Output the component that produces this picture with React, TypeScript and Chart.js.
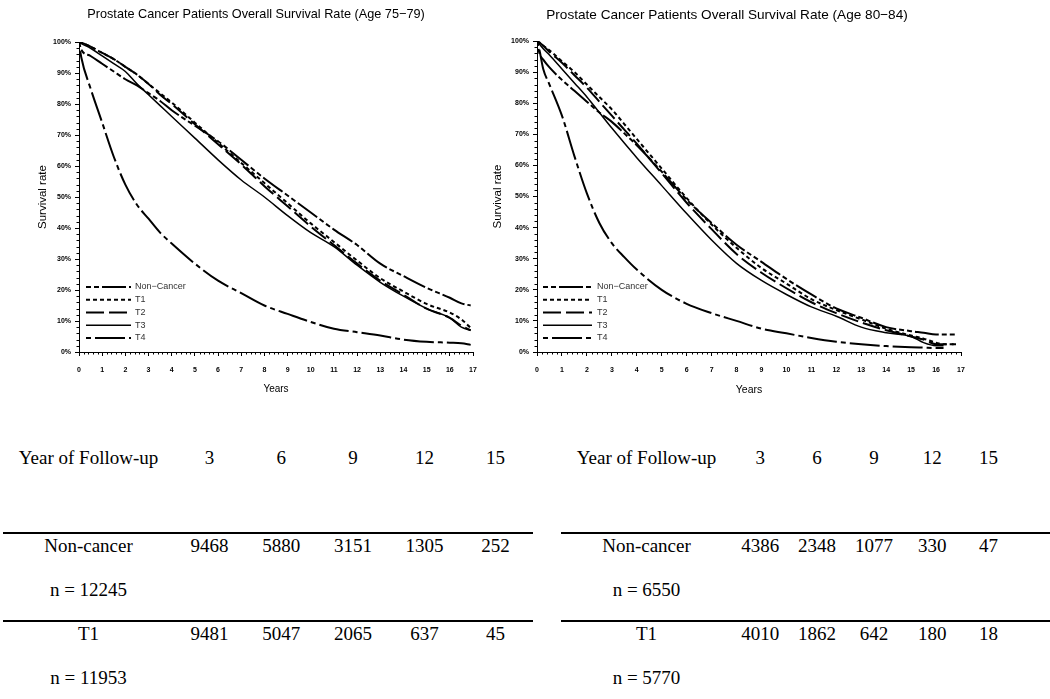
import React, { useEffect, useRef } from 'react';
import { Chart, registerables } from 'chart.js';

Chart.register(...registerables);

// ---------- series definitions ----------
const SERIES_LABELS = ['Non\u2212Cancer', 'T1', 'T2', 'T3', 'T4'];
const SERIES_DASHES: number[][] = [[5, 3, 5, 3, 24, 3], [4, 3], [18, 5], [], [5, 4, 30, 4]];
const SERIES_WIDTHS = [2, 2, 2, 1.5, 2];

// ---------- Age 75-79 (survival %) ----------
const YEARS_75 = [0, 0.1, 0.5, 1, 1.5, 2, 2.5, 3, 3.5, 4, 5, 6, 7, 8, 9, 10, 11, 12, 13, 14, 15, 16, 16.5, 16.9];
const NONCANCER_75 = [100, 97.5, 95.5, 93, 90.5, 88, 86, 83.5, 81, 78, 73, 68, 62, 56, 50.5, 45, 39.5, 34.5, 28.5, 24.5, 20.7, 17.5, 15.7, 15];
const T1_75 = [100, 99.8, 98.5, 96.5, 94.5, 92, 89.5, 86.5, 83.5, 80.5, 74, 67.5, 61, 54.5, 48, 41.5, 35.5, 29.5, 23.8, 19.5, 15.5, 12.7, 10.5, 7.8];
const T2_75 = [100, 99.8, 98.5, 96.5, 94.5, 92, 89.5, 86.5, 83, 80, 73.5, 67, 60.5, 53.5, 47, 40.5, 34.5, 28.5, 23, 18.5, 14, 11, 8.5, 7];
const T3_75 = [100, 99.5, 98, 95.5, 93, 90.5, 86.5, 83, 79.5, 76, 69, 62, 55.5, 50, 44, 38.5, 34, 28, 22.5, 18, 14, 11, 8, 7];
const T4_75 = [100, 95, 85, 74, 63, 54, 47.5, 43, 38.5, 35, 28.5, 23, 19, 15, 12.3, 9.7, 7.5, 6.4, 5.3, 4, 3.3, 3, 2.8, 2.3];

// ---------- Age 80-84 ----------
const YEARS_80 = [0, 0.1, 0.25, 0.5, 1, 1.5, 2, 2.5, 3, 3.5, 4, 5, 6, 7, 8, 9, 10, 11, 12, 13, 14, 15, 15.5, 16, 16.3, 16.8];
const NONCANCER_80 = [100, 96, 94, 91.5, 87.5, 84, 80.5, 77, 74, 70.3, 66.5, 58, 49, 41.5, 34.5, 29, 23.5, 18.5, 14, 11, 8, 6.7, 6.2, 5.6, 5.6, 5.6];
const T1_80 = [100, 99.5, 98.5, 97, 93.5, 90, 86, 82, 78, 73.3, 68.5, 59, 49.5, 41, 33.5, 27, 22, 17, 13.5, 10.5, 7.5, 5.3, 4.3, 3, 2.5, 2.5];
const T2_80 = [100, 99.5, 98.5, 96.5, 93, 89, 85, 80.5, 76, 71.5, 67, 57.5, 48, 39.5, 31.5, 25.5, 20.5, 16, 12.5, 9.5, 7, 5, 4, 2.5, 2.5, 2.5];
const T3_80 = [100, 99, 97.5, 95.5, 91, 86.5, 82, 77, 72, 67.2, 62.5, 53.5, 44.5, 36, 28.5, 23, 18.5, 14.5, 11.5, 8, 6.2, 5, 3, 2, 2, null];
const T4_80 = [100, 97, 91, 86, 76, 63, 51, 41.5, 35, 30.5, 26.5, 20, 15.5, 12.5, 10, 7.5, 6, 4.5, 3.3, 2.5, 1.9, 1.5, 1.4, 1.3, 1.3, null];

// ---------- axis ticks ----------
const X_MAX = 17;
const X_STEP = 1;
const X_MINOR = 0.2;
const Y_STEP = 10;
const Y_MINOR = 2;

// ---------- at-risk table ----------
const FOLLOW_UP_YEARS = [3, 6, 9, 12, 15];
const NONCANCER_RISK_75 = [9468, 5880, 3151, 1305, 252];
const T1_RISK_75 = [9481, 5047, 2065, 637, 45];
const NONCANCER_N_75 = 12245;
const T1_N_75 = 11953;
const NONCANCER_RISK_80 = [4386, 2348, 1077, 330, 47];
const T1_RISK_80 = [4010, 1862, 642, 180, 18];
const NONCANCER_N_80 = 6550;
const T1_N_80 = 5770;

const SANS = "'Liberation Sans', Arial, Helvetica, sans-serif";
const SERIF = "'Liberation Serif', 'Times New Roman', serif";

const minorTicksPlugin = {
  id: 'minorTicks',
  afterDraw(chart: any) {
    const { ctx, scales } = chart;
    const x = scales.x;
    const y = scales.y;
    ctx.save();
    ctx.strokeStyle = '#000';
    ctx.lineWidth = 1;
    ctx.beginPath();
    const nx = Math.round(X_MAX / X_MINOR);
    const perX = Math.round(X_STEP / X_MINOR);
    for (let i = 1; i < nx; i++) {
      if (i % perX === 0) continue;
      const px = Math.round(x.getPixelForValue(i * X_MINOR)) + 0.5;
      ctx.moveTo(px, y.bottom);
      ctx.lineTo(px, y.bottom + 2.5);
    }
    const ny = Math.round(100 / Y_MINOR);
    const perY = Math.round(Y_STEP / Y_MINOR);
    for (let i = 1; i < ny; i++) {
      if (i % perY === 0) continue;
      const py = Math.round(y.getPixelForValue(i * Y_MINOR)) + 0.5;
      ctx.moveTo(x.left, py);
      ctx.lineTo(x.left - 2.5, py);
    }
    ctx.stroke();
    ctx.restore();
  },
};

const inlineLegendPlugin = {
  id: 'inlineLegend',
  afterDraw(chart: any, _args: any, opts: any) {
    const { ctx, chartArea } = chart;
    const x0 = chartArea.left + opts.offsetX;
    ctx.save();
    chart.data.datasets.forEach((ds: any, i: number) => {
      const yy = chartArea.bottom - opts.offsetBottom + i * opts.spacing;
      ctx.beginPath();
      ctx.strokeStyle = '#000';
      ctx.lineWidth = ds.borderWidth;
      ctx.setLineDash(ds.borderDash || []);
      ctx.moveTo(x0, yy);
      ctx.lineTo(x0 + opts.length, yy);
      ctx.stroke();
      ctx.setLineDash([]);
      ctx.fillStyle = '#333';
      ctx.font = `${opts.fontSize}px ${SANS}`;
      ctx.textBaseline = 'middle';
      ctx.textAlign = 'left';
      ctx.fillText(ds.label, x0 + opts.length + opts.gap, yy);
    });
    ctx.restore();
  },
};

type ChartProps = {
  left: number;
  width: number;
  height: number;
  chartRight: number;
  padLeft: number;
  yAxisWidth: number;
  yTitlePad: number;
  title: string;
  titleSize: number;
  titlePadTop: number;
  titlePadBottom: number;
  xTitleSize: number;
  xTitlePad: number;
  legendOffset: number;
  legendLength: number;
  legendGap: number;
  years: number[];
  series: (number | null)[][];
};

function SurvivalChart(p: ChartProps) {
  const ref = useRef<HTMLCanvasElement>(null);
  useEffect(() => {
    if (!ref.current) return;
    const tickFont = { family: SANS, size: 7, weight: 'bold' as const };
    const chart = new Chart(ref.current, {
      type: 'line',
      data: {
        datasets: p.series.map((vals, i) => ({
          label: SERIES_LABELS[i],
          data: p.years.map((t, j) => ({ x: t, y: vals[j] })),
          borderColor: '#000',
          backgroundColor: '#000',
          borderWidth: SERIES_WIDTHS[i],
          borderDash: SERIES_DASHES[i],
          pointRadius: 0,
          fill: false,
          cubicInterpolationMode: 'monotone',
          spanGaps: false,
        })) as any,
      },
      options: {
        animation: false,
        responsive: false,
        devicePixelRatio: 1,
        events: [],
        layout: { padding: { left: p.padLeft, right: p.width - p.chartRight, top: 0, bottom: 0 } },
        scales: {
          x: {
            type: 'linear',
            min: 0,
            max: X_MAX,
            ticks: { stepSize: X_STEP, font: tickFont, color: '#000', padding: 10, maxRotation: 0, autoSkip: false },
            grid: { drawOnChartArea: false, drawTicks: true, tickLength: 4, tickColor: '#000' },
            border: { display: true, color: '#000', width: 1 },
            title: { display: true, text: 'Years', color: '#000', font: { family: SANS, size: p.xTitleSize }, padding: { top: 0, bottom: p.xTitlePad } },
            afterFit: (s: any) => { s.height = p.height - 352; },
          },
          y: {
            type: 'linear',
            min: 0,
            max: 100,
            ticks: { stepSize: Y_STEP, font: tickFont, color: '#000', padding: 4, callback: (v: any) => `${v}%` },
            grid: { drawOnChartArea: false, drawTicks: true, tickLength: 4, tickColor: '#000' },
            border: { display: true, color: '#000', width: 1 },
            title: { display: true, text: 'Survival rate', color: '#000', font: { family: SANS, size: 11.5, lineHeight: 0.7 }, padding: { top: p.yTitlePad, bottom: 0 } },
            afterFit: (s: any) => { s.width = p.yAxisWidth; },
          },
        },
        plugins: {
          legend: { display: false },
          tooltip: { enabled: false },
          title: {
            display: true,
            text: p.title,
            color: '#000',
            font: { family: SANS, size: p.titleSize, weight: 'normal' },
            padding: { top: p.titlePadTop, bottom: p.titlePadBottom },
          },
          inlineLegend: { offsetX: p.legendOffset, length: p.legendLength, gap: p.legendGap, offsetBottom: 65, spacing: 12.75, fontSize: 9 },
        } as any,
      },
      plugins: [minorTicksPlugin, inlineLegendPlugin],
    });
    return () => chart.destroy();
  }, []);
  return (
    <canvas
      ref={ref}
      width={p.width}
      height={p.height}
      style={{ position: 'absolute', left: p.left, top: 0, width: p.width, height: p.height }}
    />
  );
}

function Txt({ x, y, children }: { x: number; y: number; children: React.ReactNode }) {
  return (
    <div
      style={{
        position: 'absolute',
        left: x,
        top: y,
        transform: 'translate(-50%, -50%)',
        whiteSpace: 'nowrap',
        fontFamily: SERIF,
        fontSize: 19,
        lineHeight: '19px',
        color: '#000',
      }}
    >
      {children}
    </div>
  );
}

function Rule({ x1, x2, y }: { x1: number; x2: number; y: number }) {
  return <div style={{ position: 'absolute', left: x1, top: y - 1, width: x2 - x1, height: 2, background: '#000' }} />;
}

type TableProps = {
  labelX: number;
  colX: number[];
  lineX1: number;
  lineX2: number;
  ncRisk: number[];
  t1Risk: number[];
  ncN: number;
  t1N: number;
};

const ROW_HEADER = 457;
const ROW_LINE1 = 533;
const ROW_NC = 545;
const ROW_NC_N = 589;
const ROW_LINE2 = 621;
const ROW_T1 = 633;
const ROW_T1_N = 677;

function RiskTable(t: TableProps) {
  return (
    <>
      <Txt x={t.labelX} y={ROW_HEADER}>Year of Follow-up</Txt>
      {FOLLOW_UP_YEARS.map((yr, i) => (
        <Txt key={'h' + i} x={t.colX[i]} y={ROW_HEADER}>{yr}</Txt>
      ))}
      <Rule x1={t.lineX1} x2={t.lineX2} y={ROW_LINE1} />
      <Txt x={t.labelX} y={ROW_NC}>Non-cancer</Txt>
      {t.ncRisk.map((v, i) => (
        <Txt key={'n' + i} x={t.colX[i]} y={ROW_NC}>{v}</Txt>
      ))}
      <Txt x={t.labelX} y={ROW_NC_N}>n = {t.ncN}</Txt>
      <Rule x1={t.lineX1} x2={t.lineX2} y={ROW_LINE2} />
      <Txt x={t.labelX} y={ROW_T1}>T1</Txt>
      {t.t1Risk.map((v, i) => (
        <Txt key={'t' + i} x={t.colX[i]} y={ROW_T1}>{v}</Txt>
      ))}
      <Txt x={t.labelX} y={ROW_T1_N}>n = {t.t1N}</Txt>
    </>
  );
}

export default function App() {
  return (
    <div style={{ position: 'absolute', left: 0, top: 0, width: 1050, height: 699, background: '#fff', overflow: 'hidden' }}>
      <SurvivalChart
        left={0}
        width={512}
        height={400}
        chartRight={473}
        padLeft={39}
        yAxisWidth={40}
        yTitlePad={0}
        title={'Prostate Cancer Patients Overall Survival Rate (Age 75\u221279)'}
        titleSize={12.7}
        titlePadTop={7}
        titlePadBottom={19.8}
        xTitleSize={10}
        xTitlePad={5}
        legendOffset={7}
        legendLength={45}
        legendGap={4}
        years={YEARS_75}
        series={[NONCANCER_75, T1_75, T2_75, T3_75, T4_75]}
      />
      <SurvivalChart
        left={480}
        width={530}
        height={400}
        chartRight={481}
        padLeft={13}
        yAxisWidth={44}
        yTitlePad={1}
        title={'Prostate Cancer Patients Overall Survival Rate (Age 80\u221284)'}
        titleSize={13.6}
        titlePadTop={7}
        titlePadBottom={17.7}
        xTitleSize={10.5}
        xTitlePad={3.7}
        legendOffset={6}
        legendLength={49}
        legendGap={5}
        years={YEARS_80}
        series={[NONCANCER_80, T1_80, T2_80, T3_80, T4_80]}
      />
      <RiskTable
        labelX={88.5}
        colX={[209.6, 281.3, 353, 424.6, 495.6]}
        lineX1={3}
        lineX2={532.5}
        ncRisk={NONCANCER_RISK_75}
        t1Risk={T1_RISK_75}
        ncN={NONCANCER_N_75}
        t1N={T1_N_75}
      />
      <RiskTable
        labelX={646.5}
        colX={[760.2, 817.1, 874, 932.3, 988.6]}
        lineX1={560.6}
        lineX2={1050}
        ncRisk={NONCANCER_RISK_80}
        t1Risk={T1_RISK_80}
        ncN={NONCANCER_N_80}
        t1N={T1_N_80}
      />
    </div>
  );
}
